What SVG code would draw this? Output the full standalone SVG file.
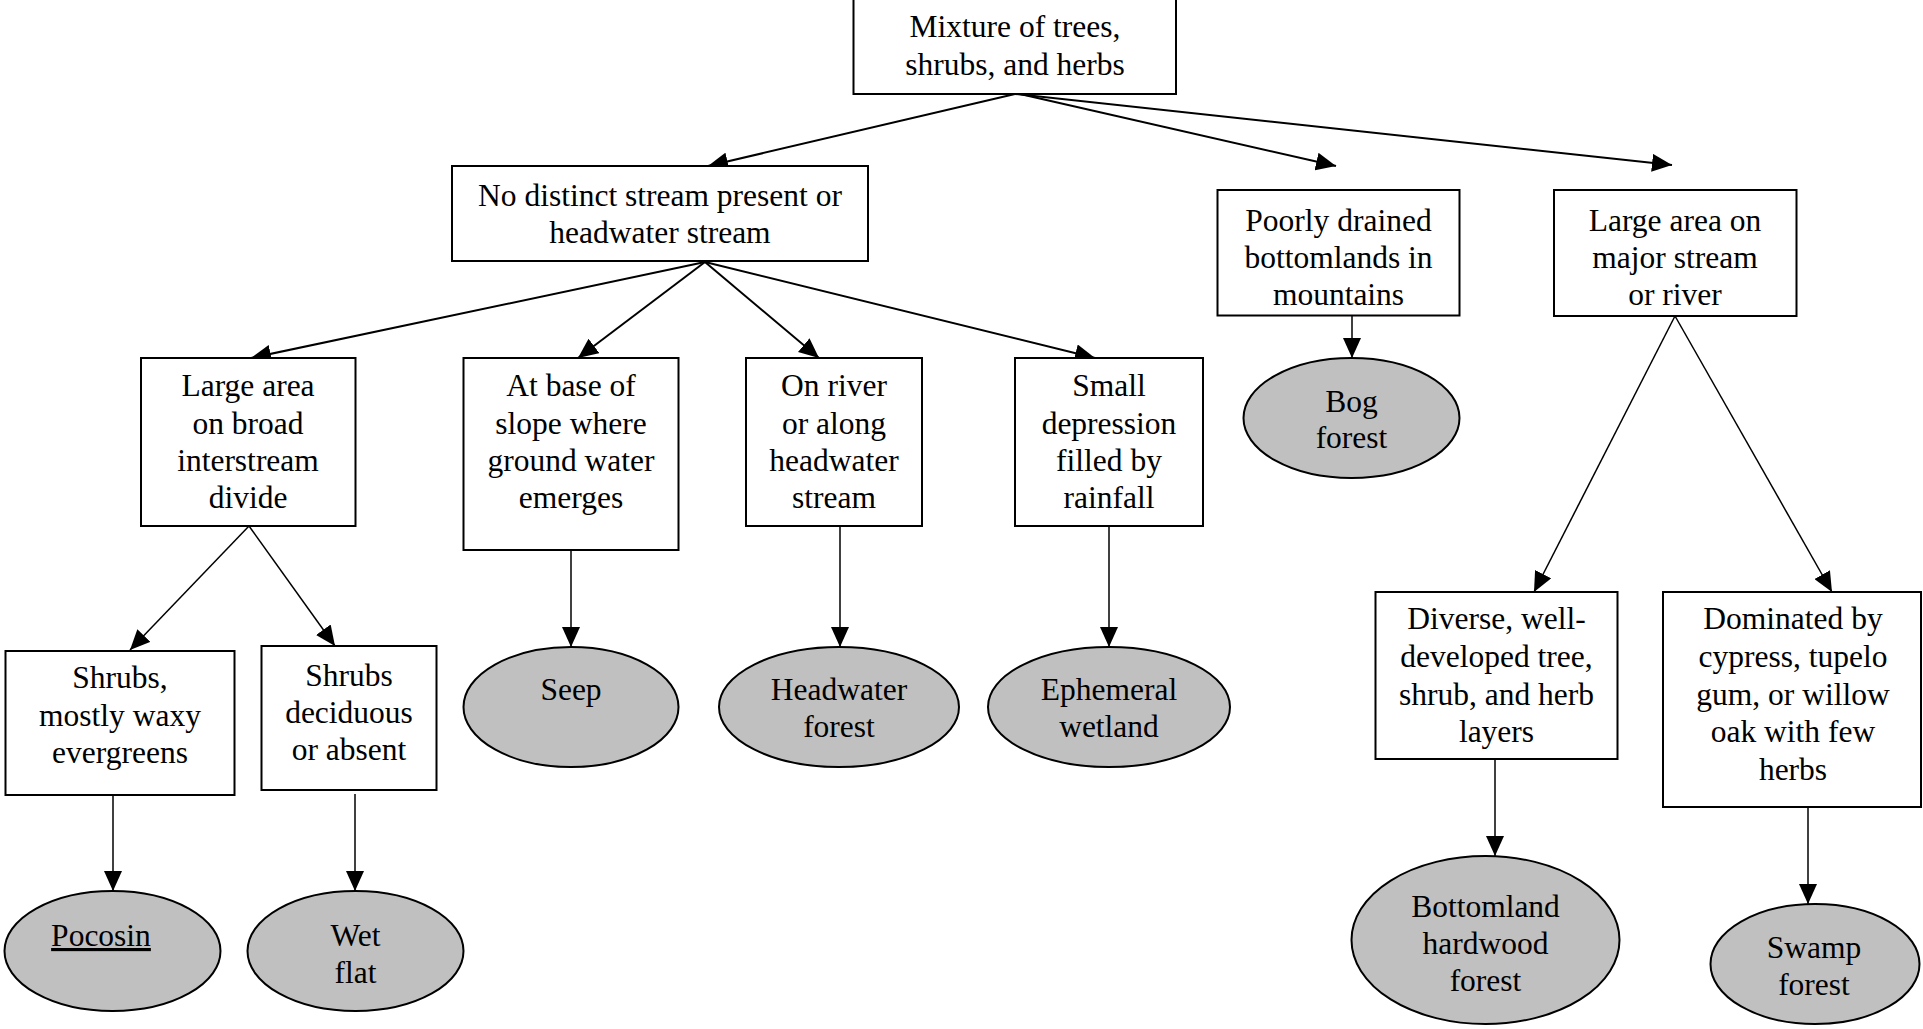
<svg xmlns="http://www.w3.org/2000/svg" width="1923" height="1029" viewBox="0 0 1923 1029">
  <style>
    .box { fill: #ffffff; stroke: #000000; stroke-width: 2; }
    .leaf { fill: #c0c0c0; stroke: #000000; stroke-width: 2; }
    .lbl { font-family: "Liberation Serif", "Times New Roman", serif; font-size: 31.5px; fill: #000000; text-anchor: middle; }
    .link { stroke: #000000; stroke-width: 2; fill: none; marker-end: url(#arrow); }
    .thin { stroke-width: 1.5; }
  </style>
  <defs>
    <marker id="arrow" viewBox="0 0 20 18" refX="20" refY="9" markerWidth="20" markerHeight="18" markerUnits="userSpaceOnUse" orient="auto">
      <path d="M0,0 L20,9 L0,18 Z" fill="#000000"/>
    </marker>
  </defs>

  <rect width="1923" height="1029" fill="#ffffff"/>

  <!-- connectors -->
  <g id="connectors">
    <line class="link" x1="1015" y1="94" x2="708" y2="166"/>
    <line class="link" x1="1020" y1="94" x2="1336" y2="166"/>
    <line class="link" x1="1015" y1="94" x2="1672" y2="165"/>

    <line class="link" x1="705" y1="262" x2="251" y2="358"/>
    <line class="link" x1="705" y1="262" x2="578" y2="358"/>
    <line class="link" x1="705" y1="262" x2="819" y2="358"/>
    <line class="link" x1="705" y1="262" x2="1095" y2="358"/>

    <line class="link thin" x1="249" y1="526" x2="130" y2="650"/>
    <line class="link thin" x1="249" y1="526" x2="335" y2="646"/>

    <line class="link thin" x1="113" y1="795" x2="113" y2="891"/>
    <line class="link thin" x1="355" y1="794" x2="355" y2="891"/>
    <line class="link thin" x1="571" y1="550" x2="571" y2="647"/>
    <line class="link thin" x1="840" y1="526" x2="840" y2="647"/>
    <line class="link thin" x1="1109" y1="526" x2="1109" y2="647"/>
    <line class="link thin" x1="1352" y1="316" x2="1352" y2="358"/>

    <line class="link thin" x1="1675" y1="316" x2="1534" y2="592"/>
    <line class="link thin" x1="1675" y1="316" x2="1832" y2="592"/>
    <line class="link thin" x1="1495" y1="759" x2="1495" y2="856"/>
    <line class="link thin" x1="1808" y1="807" x2="1808" y2="904"/>
  </g>

  <!-- decision boxes -->
  <g id="mixture">
    <rect class="box" x="853.5" y="-2" width="322.5" height="96"/>
    <text class="lbl" x="1015" y="37">Mixture of trees,</text>
    <text class="lbl" x="1015" y="75">shrubs, and herbs</text>
  </g>
  <g id="no-stream">
    <rect class="box" x="452" y="166" width="416" height="95"/>
    <text class="lbl" x="660" y="206">No distinct stream present or</text>
    <text class="lbl" x="660" y="243">headwater stream</text>
  </g>
  <g id="broad-divide">
    <rect class="box" x="141" y="358" width="214.5" height="168"/>
    <text class="lbl" x="248" y="396">Large area</text>
    <text class="lbl" x="248" y="433.5">on broad</text>
    <text class="lbl" x="248" y="471">interstream</text>
    <text class="lbl" x="248" y="508">divide</text>
  </g>
  <g id="slope-base">
    <rect class="box" x="463.5" y="358" width="215" height="192"/>
    <text class="lbl" x="571" y="396">At base of</text>
    <text class="lbl" x="571" y="433.5">slope where</text>
    <text class="lbl" x="571" y="471">ground water</text>
    <text class="lbl" x="571" y="508">emerges</text>
  </g>
  <g id="on-river">
    <rect class="box" x="746" y="358" width="176" height="168"/>
    <text class="lbl" x="834" y="396">On river</text>
    <text class="lbl" x="834" y="433.5">or along</text>
    <text class="lbl" x="834" y="471">headwater</text>
    <text class="lbl" x="834" y="508">stream</text>
  </g>
  <g id="depression">
    <rect class="box" x="1015" y="358" width="188" height="168"/>
    <text class="lbl" x="1109" y="396">Small</text>
    <text class="lbl" x="1109" y="433.5">depression</text>
    <text class="lbl" x="1109" y="471">filled by</text>
    <text class="lbl" x="1109" y="508">rainfall</text>
  </g>
  <g id="poorly-drained">
    <rect class="box" x="1217.5" y="190" width="242" height="125.5"/>
    <text class="lbl" x="1338.5" y="231">Poorly drained</text>
    <text class="lbl" x="1338.5" y="268">bottomlands in</text>
    <text class="lbl" x="1338.5" y="305">mountains</text>
  </g>
  <g id="major-stream">
    <rect class="box" x="1554" y="190" width="242.5" height="126"/>
    <text class="lbl" x="1675" y="231">Large area on</text>
    <text class="lbl" x="1675" y="268">major stream</text>
    <text class="lbl" x="1675" y="305">or river</text>
  </g>
  <g id="waxy-shrubs">
    <rect class="box" x="5.5" y="651" width="229" height="144"/>
    <text class="lbl" x="120" y="688">Shrubs,</text>
    <text class="lbl" x="120" y="725.5">mostly waxy</text>
    <text class="lbl" x="120" y="763">evergreens</text>
  </g>
  <g id="deciduous-shrubs">
    <rect class="box" x="261.5" y="646" width="175" height="144"/>
    <text class="lbl" x="349" y="686">Shrubs</text>
    <text class="lbl" x="349" y="723">deciduous</text>
    <text class="lbl" x="349" y="760">or absent</text>
  </g>
  <g id="diverse-layers">
    <rect class="box" x="1375.5" y="592" width="242" height="167"/>
    <text class="lbl" x="1496.5" y="629">Diverse, well-</text>
    <text class="lbl" x="1496.5" y="667">developed tree,</text>
    <text class="lbl" x="1496.5" y="705">shrub, and herb</text>
    <text class="lbl" x="1496.5" y="742">layers</text>
  </g>
  <g id="cypress-tupelo">
    <rect class="box" x="1663" y="592" width="258" height="215"/>
    <text class="lbl" x="1793" y="629">Dominated by</text>
    <text class="lbl" x="1793" y="667">cypress, tupelo</text>
    <text class="lbl" x="1793" y="705">gum, or willow</text>
    <text class="lbl" x="1793" y="742">oak with few</text>
    <text class="lbl" x="1793" y="780">herbs</text>
  </g>

  <!-- wetland types -->
  <g id="pocosin">
    <ellipse class="leaf" cx="112.5" cy="951" rx="108" ry="60"/>
    <text class="lbl" x="101" y="946" text-decoration="underline">Pocosin</text>
  </g>
  <g id="wet-flat">
    <ellipse class="leaf" cx="355.5" cy="951" rx="108" ry="60"/>
    <text class="lbl" x="355.5" y="946">Wet</text>
    <text class="lbl" x="355.5" y="983">flat</text>
  </g>
  <g id="seep">
    <ellipse class="leaf" cx="571" cy="707" rx="107.5" ry="60"/>
    <text class="lbl" x="571" y="700">Seep</text>
  </g>
  <g id="headwater-forest">
    <ellipse class="leaf" cx="839" cy="707" rx="120" ry="60"/>
    <text class="lbl" x="839" y="700">Headwater</text>
    <text class="lbl" x="839" y="737">forest</text>
  </g>
  <g id="ephemeral-wetland">
    <ellipse class="leaf" cx="1109" cy="707" rx="121" ry="60"/>
    <text class="lbl" x="1109" y="700">Ephemeral</text>
    <text class="lbl" x="1109" y="737">wetland</text>
  </g>
  <g id="bog-forest">
    <ellipse class="leaf" cx="1351.5" cy="418" rx="108" ry="60"/>
    <text class="lbl" x="1351.5" y="412">Bog</text>
    <text class="lbl" x="1351.5" y="448">forest</text>
  </g>
  <g id="bottomland-hardwood">
    <ellipse class="leaf" cx="1485.5" cy="940" rx="134" ry="84"/>
    <text class="lbl" x="1485.5" y="917">Bottomland</text>
    <text class="lbl" x="1485.5" y="954">hardwood</text>
    <text class="lbl" x="1485.5" y="991">forest</text>
  </g>
  <g id="swamp-forest">
    <ellipse class="leaf" cx="1815" cy="964" rx="104.5" ry="60"/>
    <text class="lbl" x="1814" y="958">Swamp</text>
    <text class="lbl" x="1814" y="995">forest</text>
  </g>
</svg>
